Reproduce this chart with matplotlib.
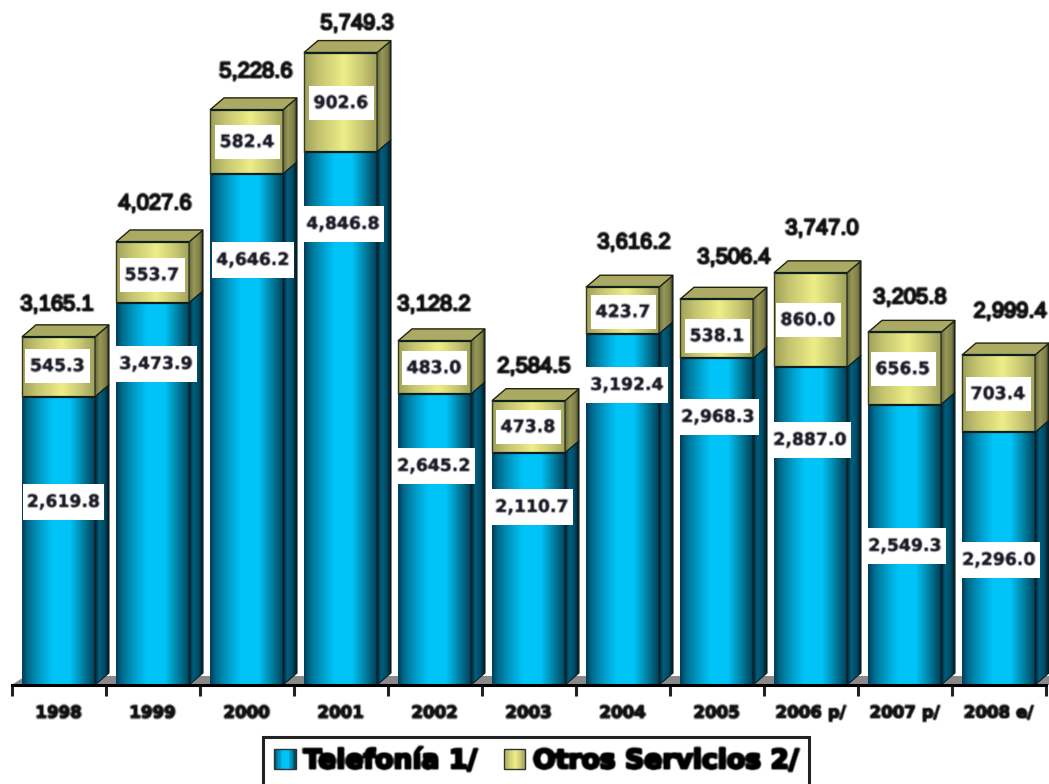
import numpy as np
import matplotlib
matplotlib.use("Agg")
import matplotlib.pyplot as plt
import matplotlib.patheffects as pe
from matplotlib.colors import LinearSegmentedColormap as LSC
from matplotlib.patches import Polygon, Rectangle
from matplotlib.legend_handler import HandlerBase

# ---- data ----
years = ["1998", "1999", "2000", "2001", "2002", "2003", "2004", "2005", "2006 p/", "2007 p/", "2008 e/"]
telefonia = [2619.8, 3473.9, 4646.2, 4846.8, 2645.2, 2110.7, 3192.4, 2968.3, 2887.0, 2549.3, 2296.0]
otros = [545.3, 553.7, 582.4, 902.6, 483.0, 473.8, 423.7, 538.1, 860.0, 656.5, 703.4]
totales = [3165.1, 4027.6, 5228.6, 5749.3, 3128.2, 2584.5, 3616.2, 3506.4, 3747.0, 3205.8, 2999.4]
series_names = ["Telefonía 1/", "Otros Servicios 2/"]

# ---- layout (pixel positions of the free-floating labels) ----
W, H = 1049, 784
BASE = 685
PX_PER_UNIT = 0.1100
STEP = 94.0
C0 = 58.5
tel_xy = [(63.5,502),(156,364),(253,260),(343,224),(434,466),(532,507),(627,385),(718,417),(810,440),(905,546),(999,560)]
otr_xy = [(57.5,366),(152,275),(247,142),(341,103),(434,368),(528,427),(623,312),(717,336),(808,320),(903,369),(998,394)]
tot_xy = [(57,305),(155,204),(256,72),(357,24),(434,305),(534,367),(634,243),(734,258),(822,229),(910,298),(1010,312)]
TEL_BOX = (82, 36)
OTR_BOX = (65, 34)

teal_front = LSC.from_list("tf", [(0, "#003f5a"), (.08, "#006c8e"), (.28, "#00a5d2"), (.42, "#00c4f8"),
                                  (.66, "#00c4f8"), (.88, "#00708f"), (1, "#003f5a")])
teal_side = LSC.from_list("ts", [(0, "#001c28"), (.3, "#005f7e"), (.7, "#004a64"), (1, "#00141c")])
gold_front = LSC.from_list("gf", [(0, "#a0a05c"), (.2, "#c4c470"), (.55, "#eeee88"), (.8, "#c8c874"), (1, "#a0a05c")])
gold_side = LSC.from_list("gs", [(0, "#6a6a3a"), (.35, "#98985a"), (.8, "#7c7c46"), (1, "#20200f")])
TOP_GOLD = "#aaaa64"
EDGE = "#0f1f20"
GRAD = np.linspace(0, 1, 128)[None, :]


def soft(im, dpi):
    pad = 2
    a = np.pad(im, ((pad, pad), (pad, pad), (0, 0)))
    k = np.array([.25, .5, .25])
    a = np.apply_along_axis(lambda v: np.convolve(v, k, mode="same"), 0, a)
    a = np.apply_along_axis(lambda v: np.convolve(v, k, mode="same"), 1, a)
    return a, -pad, -pad


fig = plt.figure(figsize=(W / 100, H / 100), dpi=100)
ax = fig.add_axes([0, (H - BASE) / H, 1, BASE / H])
xlim = (-C0 / STEP, (W - C0) / STEP)
ylim = (0, BASE / PX_PER_UNIT)
bw = 73 / STEP
dx = 14 / STEP
dy = 12 / PX_PER_UNIT

# floor
ax.add_patch(Polygon([(-0.5, 0), (-0.5 + dx, dy * 0.75), (xlim[1], dy * 0.75), (xlim[1], 0)],
                     fc="#8a8a8a", ec="none", zorder=1))


def segment(i, y0, y1, front, side):
    l, r = i - bw / 2, i + bw / 2
    ax.imshow(GRAD, cmap=front, extent=(l, r, y0, y1), aspect="auto", zorder=3)
    poly = Polygon([(r, y0), (r + dx, y0 + dy), (r + dx, y1 + dy), (r, y1)], fc="none", ec=EDGE, lw=0.8, zorder=4)
    ax.add_patch(poly)
    im = ax.imshow(GRAD, cmap=side, extent=(r, r + dx, y0, y1 + dy), aspect="auto", zorder=3)
    im.set_clip_path(poly)
    ax.plot([l, r], [y1, y1], color=EDGE, lw=1.6, zorder=5, solid_capstyle="butt")


for i, (a, b) in enumerate(zip(telefonia, otros)):
    segment(i, 0, a, teal_front, teal_side)
    segment(i, a, a + b, gold_front, gold_side)
    l, r, t = i - bw / 2, i + bw / 2, a + b
    ax.add_patch(Polygon([(l, t), (l + dx, t + dy), (r + dx, t + dy), (r, t)],
                         fc=TOP_GOLD, ec="#23230f", lw=1.0, zorder=4))
    ax.plot([l, l], [a, t], color="#3a3a1c", lw=1.0, zorder=5)

ax.set_xlim(*xlim)
ax.set_ylim(*ylim)
for s in ("top", "left", "right"):
    ax.spines[s].set_visible(False)
ax.spines["bottom"].set_bounds(-0.5, 10.5)
ax.spines["bottom"].set_linewidth(2.2)
ax.spines["bottom"].set_zorder(6)
ax.yaxis.set_visible(False)
ax.patch.set_alpha(0)
ax.set_xticks(np.arange(-0.5, 11), labels=[])
ax.set_xticks(np.arange(11), labels=years, minor=True)
ax.tick_params(axis="x", which="major", length=8, width=2.2, color="#222222")
ax.tick_params(axis="x", which="minor", length=0, pad=13.5)
for t in ax.get_xticklabels(minor=True):
    t.set_fontsize(12)
    t.set_fontweight("bold")
    t.set_color("#111111")
    t.set_path_effects([pe.withStroke(linewidth=1.2, foreground="#111111")])
    t.set_agg_filter(soft)


def ptext(x, y, s, **kw):
    t = fig.text(x / W, 1 - y / H, s, ha="center", va="center", zorder=10, **kw)
    t.set_agg_filter(soft)
    return t


for vals, pos, (bwpx, bhpx) in ((telefonia, tel_xy, TEL_BOX), (otros, otr_xy, OTR_BOX)):
    for v, (x, y) in zip(vals, pos):
        fig.add_artist(Rectangle(((x - bwpx / 2) / W, 1 - (y + bhpx / 2) / H), bwpx / W, bhpx / H,
                                 fc="white", ec="none", transform=fig.transFigure, zorder=9))
        ptext(x, y, f"{v:,.1f}", fontsize=12.4, fontweight="bold", color="#1c1c28", family="DejaVu Sans",
              path_effects=[pe.withStroke(linewidth=0.5, foreground="#1c1c28")])
for v, (x, y) in zip(totales, tot_xy):
    ptext(x, y, f"{v:,.1f}", fontsize=15.8, color="#111111", family="Liberation Sans",
          path_effects=[pe.withStroke(linewidth=1.6, foreground="#111111")])


class GradHandler(HandlerBase):
    def __init__(self, cmap):
        super().__init__()
        self.cmap = cmap

    def create_artists(self, legend, orig, xd, yd, width, height, fontsize, trans):
        n = 16
        out = []
        for k in range(n):
            out.append(Rectangle((-xd + width * k / n, -yd), width / n + 0.3, height,
                                 fc=self.cmap((k + 0.5) / n), ec="none", transform=trans))
        out.append(Rectangle((-xd, -yd), width, height, fc="none", ec="#333333", lw=1.0, transform=trans))
        return out


h1, h2 = Rectangle((0, 0), 1, 1), Rectangle((0, 0), 1, 1)
leg = fig.legend([h1, h2], series_names, ncol=2, loc="lower left",
                 bbox_to_anchor=(263 / W, -0.002), borderaxespad=0.0,
                 prop=dict(family="DejaVu Sans", weight="bold", size=19.2),
                 handler_map={h1: GradHandler(teal_front), h2: GradHandler(gold_front)},
                 handlelength=0.8, handleheight=0.75, handletextpad=0.3, columnspacing=1.0,
                 borderpad=0.42, fancybox=False, edgecolor="#222222", framealpha=1)
leg.get_frame().set_linewidth(2.2)
for t in leg.get_texts():
    t.set_path_effects([pe.withStroke(linewidth=2.0, foreground="black")])
    t.set_agg_filter(soft)
fig.savefig("out.png", dpi=100, facecolor="white")
